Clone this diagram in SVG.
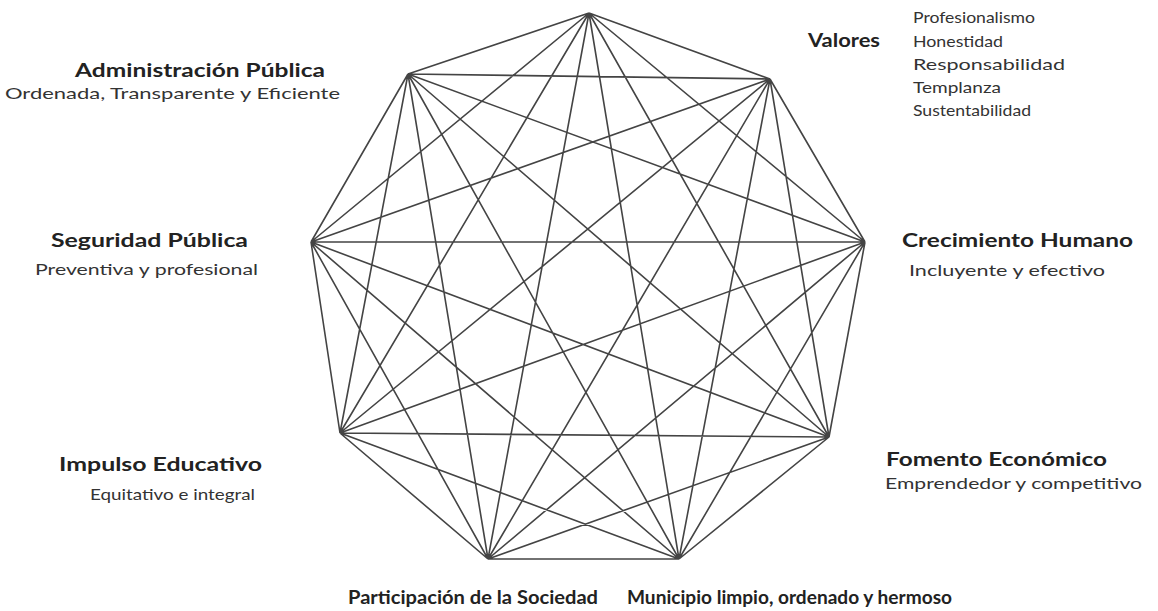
<svg xmlns="http://www.w3.org/2000/svg" width="1158" height="611" viewBox="0 0 1158 611">
<style>
.e{stroke:#444;stroke-width:1.6;fill:none}
.t{font-family:Lato,"Open Sans",sans-serif;font-size:19px;font-weight:bold;fill:#222}
.s{font-family:Lato,"Open Sans",sans-serif;font-size:16px;fill:#333}
</style>
<rect width="1158" height="611" fill="#fff"/>
<g id="connectors">
<path class="e" d="M589,13L770,79M589,13L865,242M589,13L829,437M589,13L679,559M589,13L488,559M589,13L340,433M589,13L311,242M589,13L408,74
M770,79L865,242M770,79L829,437M770,79L679,559M770,79L488,559M770,79L340,433M770,79L311,242M770,79L408,74
M865,242L829,437M865,242L679,559M865,242L488,559M865,242L340,433M865,242L311,242M865,242L408,74
M829,437L679,559M829,437L488,559M829,437L340,433M829,437L311,242M829,437L408,74
M679,559L488,559M679,559L340,433M679,559L311,242M679,559L408,74
M488,559L340,433M488,559L311,242M488,559L408,74
M340,433L311,242M340,433L408,74
M311,242L408,74"/>
</g>
<g id="n-admin">
<text class="t" x="75" y="77" textLength="250" lengthAdjust="spacingAndGlyphs">Administración Pública</text>
<text class="s" x="5" y="99" textLength="335" lengthAdjust="spacingAndGlyphs">Ordenada, Transparente y Eficiente</text>
</g>
<g id="n-valores">
<text class="t" x="808" y="47" textLength="72" lengthAdjust="spacingAndGlyphs">Valores</text>
<text class="s" x="913" y="23" textLength="122" lengthAdjust="spacingAndGlyphs">Profesionalismo</text>
<text class="s" x="913" y="47" textLength="90" lengthAdjust="spacingAndGlyphs">Honestidad</text>
<text class="s" x="913" y="70" textLength="152" lengthAdjust="spacingAndGlyphs">Responsabilidad</text>
<text class="s" x="913" y="93" textLength="88" lengthAdjust="spacingAndGlyphs">Templanza</text>
<text class="s" x="913" y="116" textLength="118" lengthAdjust="spacingAndGlyphs">Sustentabilidad</text>
</g>
<g id="n-seguridad">
<text class="t" x="51" y="247" textLength="197" lengthAdjust="spacingAndGlyphs">Seguridad Pública</text>
<text class="s" x="35" y="275" textLength="223" lengthAdjust="spacingAndGlyphs">Preventiva y profesional</text>
</g>
<g id="n-crecimiento">
<text class="t" x="902" y="247" textLength="231" lengthAdjust="spacingAndGlyphs">Crecimiento Humano</text>
<text class="s" x="909" y="276" textLength="196" lengthAdjust="spacingAndGlyphs">Incluyente y efectivo</text>
</g>
<g id="n-impulso">
<text class="t" x="59" y="471" textLength="203" lengthAdjust="spacingAndGlyphs">Impulso Educativo</text>
<text class="s" x="90" y="500" textLength="165" lengthAdjust="spacingAndGlyphs">Equitativo e integral</text>
</g>
<g id="n-fomento">
<text class="t" x="886" y="466" textLength="221" lengthAdjust="spacingAndGlyphs">Fomento Económico</text>
<text class="s" x="885" y="489" textLength="257" lengthAdjust="spacingAndGlyphs">Emprendedor y competitivo</text>
</g>
<g id="n-participacion">
<text class="t" x="348" y="604" textLength="250" lengthAdjust="spacingAndGlyphs">Participación de la Sociedad</text>
</g>
<g id="n-municipio">
<text class="t" x="627" y="604" textLength="325" lengthAdjust="spacingAndGlyphs">Municipio limpio, ordenado y hermoso</text>
</g>
</svg>
